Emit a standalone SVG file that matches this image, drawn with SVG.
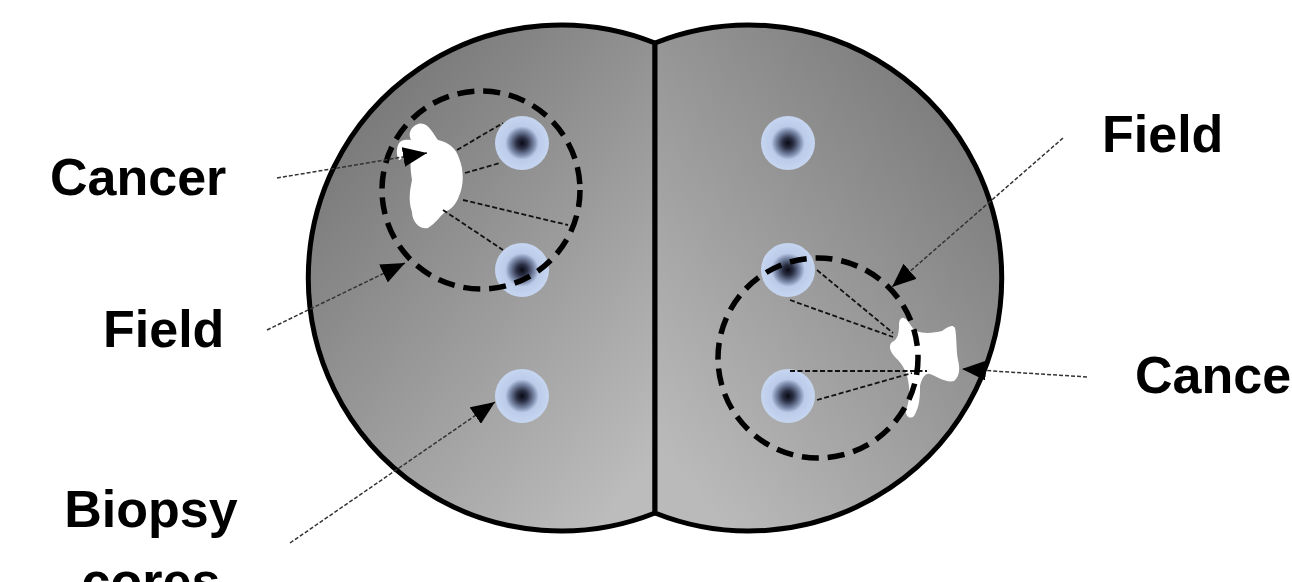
<svg xmlns="http://www.w3.org/2000/svg" width="1292" height="582" viewBox="0 0 1292 582">
  <defs>
    <style>
      .lobe { stroke: #000; stroke-width: 5; stroke-linejoin: round; }
      .core { fill: url(#coreFill); }
      .tumour { fill: #fff; }
      .field { fill: none; stroke: #000; stroke-width: 5.5; stroke-dasharray: 17 9; }
      .ray { fill: none; stroke: #111; stroke-width: 1.8; stroke-dasharray: 5 2.5; }
      .leader { fill: none; stroke: #333; stroke-width: 1.5; stroke-dasharray: 4 2; marker-end: url(#arrow); }
      .label { font-family: "Liberation Sans", Arial, sans-serif; font-weight: bold; font-size: 52px; fill: #000; }
    </style>
    <linearGradient id="leftFill" gradientUnits="userSpaceOnUse" x1="320" y1="170" x2="650" y2="470">
      <stop offset="0" stop-color="#7b7b7b"/>
      <stop offset="1" stop-color="#bcbcbc"/>
    </linearGradient>
    <linearGradient id="rightFill" gradientUnits="userSpaceOnUse" x1="660" y1="450" x2="995" y2="170">
      <stop offset="0" stop-color="#bababa"/>
      <stop offset="1" stop-color="#7e7e7e"/>
    </linearGradient>
    <radialGradient id="coreFill" cx="0.5" cy="0.5" r="0.5">
      <stop offset="0" stop-color="#0a0a14"/>
      <stop offset="0.2" stop-color="#2a2f44"/>
      <stop offset="0.45" stop-color="#7a88a8"/>
      <stop offset="0.62" stop-color="#bccbe8"/>
      <stop offset="1" stop-color="#c6d5f0"/>
    </radialGradient>
    <marker id="arrow" markerUnits="userSpaceOnUse" markerWidth="24" markerHeight="20" refX="24" refY="10" orient="auto">
      <path d="M0,0 L24,10 L0,20 Z" fill="#000"/>
    </marker>
  </defs>

  <!-- two lobes sharing a vertical midline -->
  <g id="left-lobe">
    <path class="lobe" fill="url(#leftFill)" d="M655,43 A253,253 0 1 0 655,513 Z"/>
  </g>
  <g id="right-lobe">
    <path class="lobe" fill="url(#rightFill)" d="M655,43 A253,253 0 1 1 655,513 Z"/>
  </g>

  <!-- biopsy cores -->
  <g id="cores">
    <circle class="core" cx="522" cy="143" r="27"/>
    <circle class="core" cx="522" cy="270" r="27"/>
    <circle class="core" cx="522" cy="396" r="27"/>
    <circle class="core" cx="788" cy="143" r="27"/>
    <circle class="core" cx="788" cy="270" r="27"/>
    <circle class="core" cx="788" cy="396" r="27"/>
  </g>

  <!-- tumour foci -->
  <g id="cancer-left">
    <path class="tumour" d="M418,124 C428,121 433,134 438,140 C448,142 456,148 459,158 C464,170 464,185 459,196 C456,205 450,210 445,212 C440,216 436,223 428,228 C420,230 412,222 412,212 C408,200 410,190 412,180 C410,168 410,160 412,152 C406,150 402,160 399,160 C396,156 396,146 400,142 C404,139 408,140 411,140 C408,134 410,127 418,124 Z"/>
  </g>
  <g id="cancer-right">
    <path class="tumour" d="M904,318 C909,320 911,328 916,331 C924,334 934,333 942,331 C948,327 952,324 955,328 C957,338 956,350 958,360 C960,368 960,376 954,381 C946,383 938,377 930,374 C925,373 922,378 920,386 C920,396 920,406 914,416 C910,420 905,416 906,410 C910,400 910,390 908,380 C906,370 902,364 896,358 C890,352 888,346 892,342 C898,340 899,332 899,325 C899,320 901,317 904,318 Z"/>
  </g>

  <!-- sampling rays from tumour to cores -->
  <g id="rays">
    <line class="ray" x1="457" y1="150" x2="503" y2="123"/>
    <line class="ray" x1="465" y1="173" x2="500" y2="163"/>
    <line class="ray" x1="463" y1="200" x2="568" y2="225"/>
    <line class="ray" x1="443" y1="210" x2="503" y2="250"/>
    <line class="ray" x1="817" y1="270" x2="893" y2="333"/>
    <line class="ray" x1="790" y1="300" x2="893" y2="337"/>
    <line class="ray" x1="790" y1="371" x2="927" y2="371"/>
    <line class="ray" x1="817" y1="400" x2="912" y2="373"/>
  </g>

  <!-- field boundaries -->
  <g id="field-left">
    <circle class="field" cx="481" cy="190" r="99"/>
  </g>
  <g id="field-right">
    <circle class="field" cx="818" cy="358" r="100"/>
  </g>

  <!-- label leaders -->
  <g id="connectors">
    <line class="leader" x1="277" y1="178" x2="427" y2="153"/>
    <line class="leader" x1="267" y1="330" x2="405" y2="263"/>
    <line class="leader" x1="290" y1="543" x2="495" y2="402"/>
    <line class="leader" x1="1063" y1="138" x2="892" y2="287"/>
    <line class="leader" x1="1087" y1="377" x2="962" y2="369"/>
  </g>

  <!-- labels -->
  <g id="labels">
    <text class="label" x="50" y="195">Cancer</text>
    <text class="label" x="103" y="347">Field</text>
    <text class="label" x="151" y="527" text-anchor="middle">Biopsy</text>
    <text class="label" x="151" y="599" text-anchor="middle">cores</text>
    <text class="label" x="1102" y="152">Field</text>
    <text class="label" x="1135" y="393">Cancer</text>
  </g>
</svg>
